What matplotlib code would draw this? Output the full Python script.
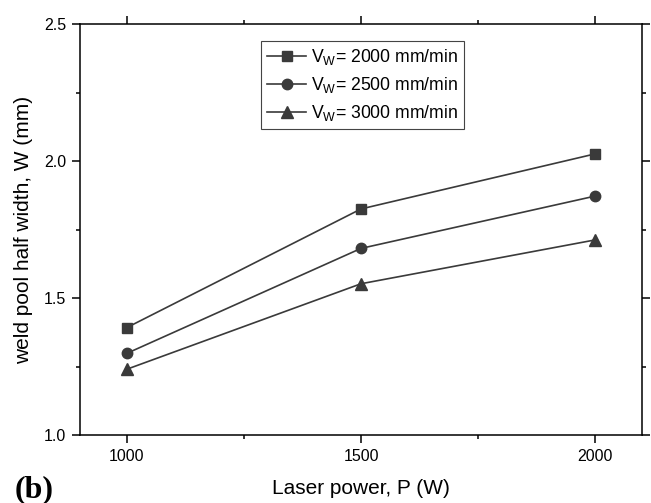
import matplotlib
matplotlib.use("Agg")
import matplotlib.pyplot as plt
from matplotlib.ticker import MultipleLocator

plt.rcParams['font.family'] = ['Liberation Sans', 'DejaVu Sans']
plt.rcParams['mathtext.fontset'] = 'custom'
plt.rcParams['mathtext.rm'] = 'Liberation Sans'

power = [1000, 1500, 2000]
w_2000 = [1.392, 1.825, 2.026]
w_2500 = [1.298, 1.681, 1.872]
w_3000 = [1.240, 1.552, 1.712]
labels = ['V$_\\mathregular{W}$= 2000 mm/min',
          'V$_\\mathregular{W}$= 2500 mm/min',
          'V$_\\mathregular{W}$= 3000 mm/min']

col = '#3a3a3a'
fig = plt.figure(figsize=(6.51, 5.03), dpi=100)
ax = fig.add_axes([80/651, 1-435/503, 562/651, 411/503])

ax.plot(power, w_2000, marker='s', ms=6.5, color=col, lw=1.2, label=labels[0])
ax.plot(power, w_2500, marker='o', ms=7.5, color=col, lw=1.2, label=labels[1])
ax.plot(power, w_3000, marker='^', ms=8, color=col, lw=1.2, label=labels[2])

ax.set_xlim(900, 2100)
ax.set_ylim(1.0, 2.5)
ax.xaxis.set_major_locator(MultipleLocator(500))
ax.xaxis.set_minor_locator(MultipleLocator(250))
ax.yaxis.set_major_locator(MultipleLocator(0.5))
ax.yaxis.set_minor_locator(MultipleLocator(0.25))
ax.tick_params(which='both', direction='out', top=True, right=True, width=1.1,
               labelsize=11.5, pad=4)
ax.tick_params(which='major', length=6)
ax.tick_params(which='minor', length=3)
for s in ax.spines.values():
    s.set_linewidth(1.1)

ax.set_xlabel('Laser power, P (W)', fontsize=15, labelpad=11)
ax.set_ylabel('weld pool half width, W (mm)', fontsize=15, labelpad=8)

leg = ax.legend(loc='upper left', bbox_to_anchor=(261/651, 1-41/503),
                bbox_transform=fig.transFigure, borderaxespad=0, fontsize=12.7,
                handlelength=2.2, labelspacing=0.45, fancybox=False,
                framealpha=1, edgecolor='#444444', borderpad=0.35,
                handletextpad=0.3)
leg.get_frame().set_linewidth(0.8)

fig.text(15/651, 6/503, '(b)', fontsize=23, fontweight='bold',
         family='Liberation Serif', va='baseline')

fig.savefig('out.png', dpi=100)
